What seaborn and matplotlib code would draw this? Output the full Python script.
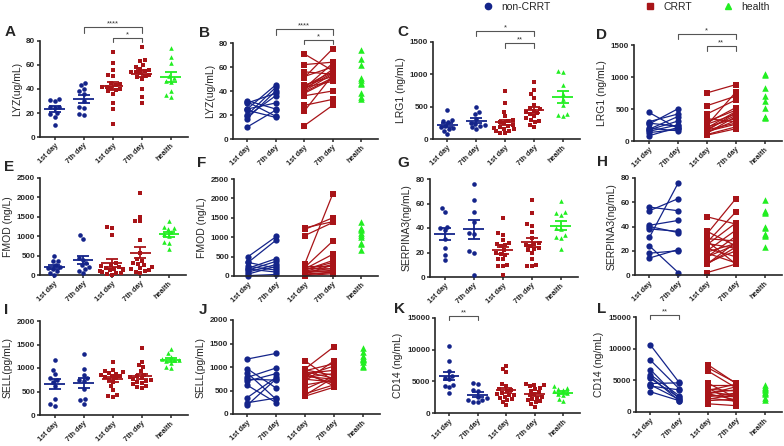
import numpy as np
import pandas as pd
import seaborn as sns
import matplotlib.pyplot as plt
from matplotlib.lines import Line2D

sns.set_style("ticks")
plt.rcParams['font.family'] = ['Liberation Sans', 'DejaVu Sans']

NAVY = '#14248a'
RED = '#a81418'
GREEN = '#22ee22'

CATS = ['nc1', 'nc7', 'c1', 'c7', 'h']
XLABELS = ['1st day', '7th day', '1st day', '7th day', 'health']

# data
LYZ_NC_D1 = [32, 31, 30, 25, 25, 24, 20, 19, 17, 10]
LYZ_NC_D7 = [25, 19, 38, 45, 30, 18, 43, 36, 40, 24]
LYZ_C_D1 = [71, 62, 56, 52, 51, 45, 44, 43, 42, 42, 41, 40, 39, 38, 36, 28, 23, 11]
LYZ_C_D7 = [57, 64, 54, 60, 75, 52, 56, 48, 63, 55, 58, 54, 51, 50, 40, 33, 53, 28]
LYZ_H = [74, 67, 62, 51, 49, 47, 46, 38, 35, 33]

LRG1_NC_D1 = [450, 300, 280, 260, 200, 180, 170, 150, 130, 80]
LRG1_NC_D7 = [200, 420, 230, 500, 160, 380, 310, 250, 180, 210]
LRG1_C_D1 = [750, 550, 420, 350, 300, 280, 260, 240, 220, 200, 180, 170, 160, 150, 130, 120, 100, 90]
LRG1_C_D7 = [880, 700, 640, 300, 480, 520, 420, 760, 350, 460, 400, 280, 440, 260, 320, 380, 220, 190]
LRG1_H = [1050, 1030, 830, 700, 620, 520, 380, 370, 360]

FMOD_NC_D1 = [500, 350, 350, 250, 200, 180, 150, 100, 50, 10]
FMOD_NC_D7 = [1020, 200, 930, 150, 450, 100, 380, 300, 250, 40]
FMOD_C_D1 = [1240, 1200, 1040, 300, 250, 220, 200, 180, 160, 150, 130, 120, 100, 80, 60, 50, 30, 10]
FMOD_C_D7 = [1400, 1500, 1380, 2120, 250, 900, 180, 560, 350, 400, 120, 300, 200, 150, 280, 100, 90, 60]
FMOD_H = [1380, 1250, 1200, 1180, 1100, 1050, 1000, 850, 820, 660]

SERP_NC_D1 = [56, 53, 41, 40, 38, 31, 24, 18, 14]
SERP_NC_D7 = [53, 63, 45, 35, 36, 76, 2, 20, 21]
SERP_C_D1 = [48, 36, 34, 30, 28, 27, 26, 25, 22, 20, 19, 18, 15, 15, 10, 9, 9, 2]
SERP_C_D7 = [42, 24, 63, 28, 9, 52, 22, 43, 15, 37, 26, 10, 25, 32, 20, 23, 27, 9]
SERP_H = [62, 53, 52, 51, 40, 39, 34, 33, 32, 23]

SELL_NC_D1 = [1170, 960, 870, 780, 740, 700, 610, 350, 240, 190]
SELL_NC_D7 = [1290, 550, 310, 980, 720, 860, 240, 780, 340, 750]
SELL_C_D1 = [1130, 960, 940, 920, 900, 880, 860, 840, 820, 800, 780, 740, 700, 620, 530, 430, 400, 380]
SELL_C_D7 = [700, 1430, 820, 1070, 760, 600, 930, 650, 1020, 740, 860, 680, 1130, 720, 800, 620, 780, 570]
SELL_H = [1400, 1310, 1230, 1200, 1180, 1160, 1150, 1100, 1030, 990]

CD14_NC_D1 = [10600, 8200, 6700, 5900, 5600, 5300, 4500, 4300, 4100, 3200]
CD14_NC_D7 = [4700, 3700, 2100, 2600, 1800, 2300, 4600, 2000, 3500, 1800]
CD14_C_D1 = [7500, 7000, 6500, 4600, 4200, 3800, 3600, 3400, 3200, 3000, 2900, 2800, 2600, 2400, 2200, 2000, 1800, 1300]
CD14_C_D7 = [4500, 4600, 3800, 2200, 4200, 1500, 3300, 4400, 2600, 3500, 1900, 4000, 2400, 3000, 1700, 2800, 2000, 1000]
CD14_H = [4200, 4000, 3800, 3600, 3400, 3200, 3000, 2800, 2200, 1900]

W, H = 784, 446
fig = plt.figure(figsize=(W / 100, H / 100), dpi=100)


def make_ax(left, top, bottom, right):
    return fig.add_axes([left / W, 1 - bottom / H, (right - left) / W, (bottom - top) / H])


def style_ax(ax, top, step, ylabel):
    ax.set_ylim(0, top)
    ax.set_yticks(np.arange(0, top + 1, step))
    ax.set_xlim(-0.5, 4.6)
    ax.set_xticks(range(5))
    ax.set_xticklabels(XLABELS, rotation=45, ha='right', rotation_mode='anchor',
                       fontsize=5.3, fontweight='bold')
    for t in ax.get_yticklabels():
        t.set_fontsize(5.8)
        t.set_fontweight('bold')
    ax.set_xlabel('')
    ax.set_ylabel(ylabel, fontsize=7.5, labelpad=3)
    ax.tick_params(length=2.5, width=1.1, pad=1.0)
    sns.despine(ax=ax)
    for s in ['left', 'bottom']:
        ax.spines[s].set_linewidth(1.2)


def scatter_panel(ax, nc1, nc7, c1, c7, h, top, step, ylabel):
    groups = [('nc1', nc1, NAVY, 'o'), ('nc7', nc7, NAVY, 'o'),
              ('c1', c1, RED, 's'), ('c7', c7, RED, 's'), ('h', h, GREEN, '^')]
    for i, (cat, vals, col, mk) in enumerate(groups):
        df = pd.DataFrame({'cat': cat, 'val': vals})
        sns.swarmplot(data=df, x='cat', y='val', order=CATS, color=col, marker=mk,
                      size=3.3, linewidth=0, ax=ax, clip_on=False, warn_thresh=1)
        m = np.mean(vals)
        se = np.std(vals, ddof=1) / np.sqrt(len(vals))
        ax.hlines(m, i - 0.36, i + 0.36, color=col, lw=1.3, zorder=5)
        ax.errorbar(i, m, yerr=se, color=col, capsize=4, capthick=1.3, lw=1.3, zorder=5)
    style_ax(ax, top, step, ylabel)


def paired_panel(ax, nc1, nc7, c1, c7, h, top, step, ylabel):
    rows = []
    for k, (a, b) in enumerate(zip(nc1, nc7)):
        rows += [('nc%d' % k, 0, a), ('nc%d' % k, 1, b)]
    df_nc = pd.DataFrame(rows, columns=['pid', 'pos', 'val'])
    rows = []
    for k, (a, b) in enumerate(zip(c1, c7)):
        rows += [('c%d' % k, 2, a), ('c%d' % k, 3, b)]
    df_c = pd.DataFrame(rows, columns=['pid', 'pos', 'val'])
    sns.lineplot(data=df_nc, x='pos', y='val', units='pid', estimator=None, color=NAVY,
                 marker='o', markersize=4.5, markeredgewidth=0, lw=0.9, ax=ax, clip_on=False)
    sns.lineplot(data=df_c, x='pos', y='val', units='pid', estimator=None, color=RED,
                 marker='s', markersize=4.5, markeredgewidth=0, lw=0.9, ax=ax, clip_on=False)
    sns.scatterplot(x=[4] * len(h), y=h, marker='^', color=GREEN, s=22, linewidth=0,
                    ax=ax, clip_on=False)
    style_ax(ax, top, step, ylabel)


def bracket(ax, x0, x1, y, tick, text):
    ax.plot([x0, x0, x1, x1], [y - tick, y, y, y - tick], color='#555555', lw=0.8,
            clip_on=False)
    ax.text((x0 + x1) / 2, y, text, ha='center', va='bottom', fontsize=5.5, color='#333333')


specs = [
    ('A', scatter_panel, (40, 41, 137, 188), (LYZ_NC_D1, LYZ_NC_D7, LYZ_C_D1, LYZ_C_D7, LYZ_H), 80, 20, 'LYZ(ug/mL)', (5, 32)),
    ('B', paired_panel, (233, 43, 139, 378), (LYZ_NC_D1, LYZ_NC_D7, LYZ_C_D1, LYZ_C_D7, LYZ_H), 80, 20, 'LYZ(ug/mL)', (199, 33)),
    ('C', scatter_panel, (433, 42, 139, 580), (LRG1_NC_D1, LRG1_NC_D7, LRG1_C_D1, LRG1_C_D7, LRG1_H), 1500, 500, 'LRG1 (ng/mL)', (397, 32)),
    ('D', paired_panel, (634, 45, 141, 782), (LRG1_NC_D1, LRG1_NC_D7, LRG1_C_D1, LRG1_C_D7, LRG1_H), 1500, 500, 'LRG1 (ng/mL)', (596, 35)),
    ('E', scatter_panel, (40, 178, 275, 186), (FMOD_NC_D1, FMOD_NC_D7, FMOD_C_D1, FMOD_C_D7, FMOD_H), 2500, 500, 'FMOD (ng/L)', (4, 167)),
    ('F', paired_panel, (234, 179, 276, 378), (FMOD_NC_D1, FMOD_NC_D7, FMOD_C_D1, FMOD_C_D7, FMOD_H), 2500, 500, 'FMOD (ng/L)', (197, 163)),
    ('G', scatter_panel, (430, 179, 277, 578), (SERP_NC_D1, SERP_NC_D7, SERP_C_D1, SERP_C_D7, SERP_H), 80, 20, 'SERPINA3(ng/mL)', (397, 163)),
    ('H', paired_panel, (635, 178, 275, 782), (SERP_NC_D1, SERP_NC_D7, SERP_C_D1, SERP_C_D7, SERP_H), 80, 20, 'SERPINA3(ng/mL)', (597, 162)),
    ('I', scatter_panel, (40, 321, 415, 188), (SELL_NC_D1, SELL_NC_D7, SELL_C_D1, SELL_C_D7, SELL_H), 2000, 500, 'SELL(pg/mL)', (4, 310)),
    ('J', paired_panel, (233, 320, 414, 380), (SELL_NC_D1, SELL_NC_D7, SELL_C_D1, SELL_C_D7, SELL_H), 2000, 500, 'SELL(pg/mL)', (199, 310)),
    ('K', scatter_panel, (435, 318, 413, 580), (CD14_NC_D1, CD14_NC_D7, CD14_C_D1, CD14_C_D7, CD14_H), 15000, 5000, 'CD14 (ng/mL)', (394, 309)),
    ('L', paired_panel, (636, 317, 412, 782), (CD14_NC_D1, CD14_NC_D7, CD14_C_D1, CD14_C_D7, CD14_H), 15000, 5000, 'CD14 (ng/mL)', (597, 309)),
]

axes = {}
for letter, func, rect, data, top, step, ylabel, lpos in specs:
    ax = make_ax(*rect)
    func(ax, *data, top, step, ylabel)
    axes[letter] = (ax, top)
    fig.text(lpos[0] / W, 1 - lpos[1] / H, letter, fontsize=11, fontweight='bold',
             va='center', ha='left')

for letter in ['A', 'B']:
    ax, top = axes[letter]
    bracket(ax, 1, 3, top * 1.145, top * 0.06, '****')
    bracket(ax, 2, 3, top * 1.03, top * 0.045, '*')
for letter in ['C', 'D']:
    ax, top = axes[letter]
    bracket(ax, 1, 3, top * 1.11, top * 0.05, '*')
    bracket(ax, 2, 3, top * 0.985, top * 0.045, '**')
for letter in ['K', 'L']:
    ax, top = axes[letter]
    bracket(ax, 0, 1, top * 1.02, top * 0.04, '**')

# legend entries placed one by one, as in the source figure
legend_items = [('o', NAVY, 'non-CRRT', 483), ('s', RED, 'CRRT', 645), ('^', GREEN, 'health', 723)]
for mk, col, label, xpx in legend_items:
    h = Line2D([], [], ls='', marker=mk, color=col, markersize=4.5)
    fig.legend([h], [label], loc='center left', bbox_to_anchor=(xpx / W, 1 - 7 / H),
               frameon=False, fontsize=7.5, borderpad=0, borderaxespad=0,
               handlelength=1, handletextpad=0.8)

fig.savefig('out.png', dpi=100)
